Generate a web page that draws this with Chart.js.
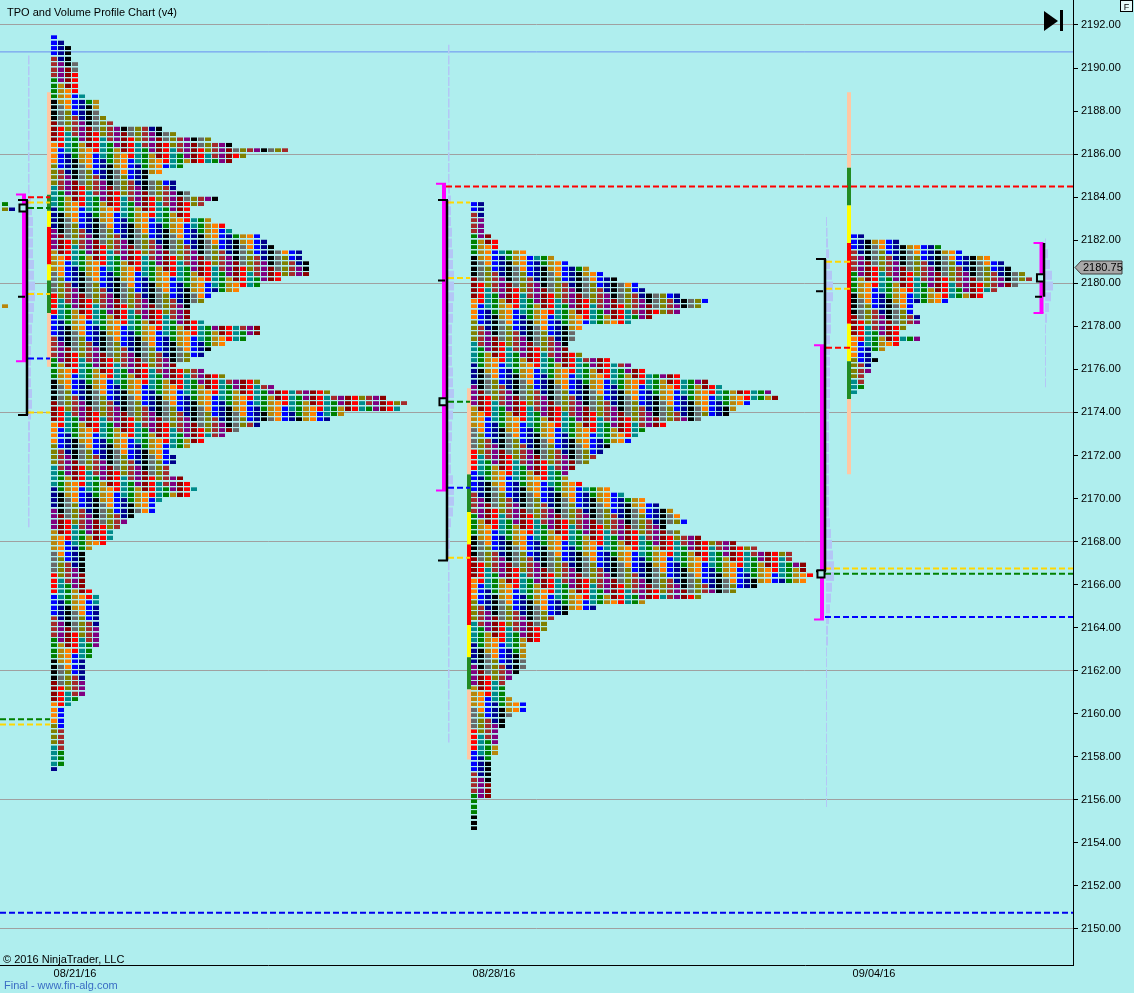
<!DOCTYPE html>
<html>
<head>
<meta charset="utf-8">
<title>TPO and Volume Profile Chart (v4)</title>
<script src="https://cdn.jsdelivr.net/npm/chart.js@4.4.1/dist/chart.umd.min.js"></script>
<style>
html,body{margin:0;padding:0;background:#afeeee;overflow:hidden;}
canvas{display:block;}
</style>
</head>
<body>
<canvas id="chart" width="1134" height="993"></canvas>
<script>
// ================= DATA =================
const TICK = 0.25;
const yTickValues = [2150,2152,2154,2156,2158,2160,2162,2164,2166,2168,2170,2172,2174,2176,2178,2180,2182,2184,2186,2188,2190,2192];
const gridLineValues = [2150,2156,2162,2168,2174,2180,2186,2192];
const dateLabels = ['08/21/16', '08/28/16', '09/04/16'];
const lastPrice = 2180.75;

// TPO profile row widths (number of TPO letters per 0.25 price row), listed from top price down
const p1Top = 2191.5;
const p1Widths = [1,2,3,3,3,4,4,4,4,4, 4,5,7,7,7,8,9,16,18,23, 26,34,28,26,19,16,14,18,18,20,
  24,22,20,20,23,25,26,30,31,32, 36,36,37,37,37,33,30,27,23,22, 20,20,20,22,30,30,28,25,23,22,
  20,18,22,25,30,32,40,48,51,50, 42,40,30,27,25,22,20,17,18,18, 17,17,19,20,21,20,16,15,15,12,
  11,10,9,9,8,6,5,5,5,5, 5,5,5,6,7,7, 7,7,7,7,7,7,7,7,6,6, 5,5,5,5,5,5,5,4,3,2,
  2,2,2,2,2,2,2,2,2,2, 1];

const p2Top = 2183.75;
const p2Widths = [2,2,2,2,2,2,3,4,4,8, 12,14,17,19,21,24,25,30,34,33, 30,26,23,16,15,15,14,14,16,20,
  23,25,30,34,36,43,44,40,38,37, 33,28,25,24,23,20,19,18,17,15, 14,14,16,20,22,25,27,29,30,31,
  28,30,33,38,41,46,46,48,48,49, 48,41,38,33,25,18,14,12,11,11, 10,10,
  8,8,8,8,8,7,6,5,5,5, 6,8,8,6,5,5,4,4,4,4, 4,3,3,3,3,3,3,3,3,1, 1,1,1,1,1];

const p3Top = 2182.25;
const p3Widths = [2,7,13,16,20,22,23,25,26,24, 21,19,14,9,9,10,10,8,7,10, 7,5,3,4,3,3,2,2,2,1];

// right edge of the previous (off-screen) session
const p0Prices = [2183.75, 2183.5, 2179.0];
const p0Widths = [1, 2, 1];

// volume profiles (bar length in px, one value per 0.5 point, from top price down)
const vol1Top = 2190.5;
const vol1 = [1.5,1.5,1.5,1.5,1.5,1.5,1.5,1.5,1.5,1.5,1.5,1.5,1.5, 3,4,5,5,5,5,6,6,7,7, 6,5,4,4,3,3,3,3,4,4,
  3,2,2,2,1.5,1.5,1.5,1.5,1.5,1.5,1.5];
const vol2Top = 2191.0;
const vol2 = [1.5,1.5,1.5,1.5,1.5,1.5,1.5,1.5,1.5,1.5,1.5,1.5,1.5,
  2,3,3,3,4,4,5,5,6,6, 6,5,5,4,4,4,4,5,5,6, 6,5,4,4,3,3,3,5,6,6, 5,3,2,2,
  1.5,1.5,1.5,1.5,1.5,1.5,1.5,1.5,1.5,1.5,1.5,1.5,1.5,1.5,1.5,1.5,1.5,1.5];
const vol3Top = 2183.0;
const vol3 = [1,1.5,2,3,4,6,7,7,5,5, 5,4,4,4,4,4,4,4,3,3, 3,3,3,3,3,3,3,3,4,5, 6,7,8,8,6,5,4,3,2,2,
  1,1,1,1,1,1,1,1,1,1,1,1,1,1,1];
const vol4Top = 2182.0;
const vol4 = [1,3,5,7,8,6,4,2,1,1,1,1,1,1];

// session range bar breakpoints (prices, top to bottom)
const p1RangeBreaks = [2188.875, 2184.125, 2183.375, 2182.625, 2180.875, 2180.125, 2178.625, 2176.125];
const p2RangeBreaks = [2175.125, 2171.125, 2169.375, 2167.875, 2164.125, 2162.625, 2161.125, 2157.875];
const p3RangeBreaks = [2188.875, 2185.375, 2183.625, 2181.875, 2178.125, 2176.375, 2174.625, 2171.125];

// value area / range lines (prices)
const p1VA = {magenta:[2184.125, 2176.375], black:[2183.875, 2173.875], tick:2179.375, marker:2183.5};
const p2VA = {magenta:[2184.625, 2170.375], black:[2183.875, 2167.125], tick:2180.125, marker:2174.5};
const p3VA = {magenta:[2177.125, 2164.375], black:[2181.125, 2166.625], tick:2179.625, marker:2166.5};
const p4VA = {magenta:[2181.875, 2178.625], black:[2181.875, 2179.375], tick:2179.375, marker:2180.25};

// short reference levels next to each profile
const p1Levels = {red:[2184.0], yellow:[2183.75, 2179.5, 2174.0], green:[2183.5], blue:[2176.5]};
const p2Levels = {red:[], yellow:[2183.75, 2180.25, 2167.25], green:[2174.5], blue:[2170.5]};
const p3Levels = {red:[2177.0], yellow:[2181.0, 2179.75], green:[], blue:[]};
const p0Levels = {green:[2159.75], yellow:[2159.5]};
const extendedFromP2 = {red:[2184.5]};
const extendedFromP3 = {yellow:[2166.75], green:[2166.5], blue:[2164.5]};
const fullWidthSolid = [2190.75];
const fullWidthDashed = [2150.75];

// ================= LAYOUT / STYLE =================
const FONT = '"Liberation Sans", Arial, Helvetica, sans-serif';
const PX = 7;                       // px per TPO column on the x scale
const X_MAX = 1073 / PX;
const Y_MIN = 2148.3274, Y_MAX = 2193.1615;
const BG = '#afeeee';
const palette = ['#0000ff','#a52a2a','#008000','#000000','#8b0000','#ff8000','#808000',
                 '#008b8b','#00008b','#800080','#b8860b','#696969','#ff0000'];
const rangeColors = ['#ffc8a4','#228b22','#ffff00','#ff0000','#ffff00','#228b22','#ffc8a4'];
const lay = {
  p0:{blocks:5},
  p1:{blocks:54, range:49, magenta:24, black:27, vol:28, gl:28, gr:50},
  p2:{blocks:474, range:469, magenta:444, black:447, vol:448, gl:448, gr:470},
  p3:{blocks:854, range:849, magenta:822, black:825, vol:826, gl:826, gr:850},
  p4:{magenta:1041.5, black:1044, vol:1045},
  right:1073
};
const datePx = [75, 494, 874];

const u = px => px / PX;
function hseg(x1, x2, p) { return [{x:u(x1), y:p}, {x:u(x2), y:p}, {x:u(x2), y:null}]; }
function vseg(x, p1, p2) { return [{x:u(x), y:p1}, {x:u(x), y:p2}, {x:u(x), y:null}]; }

// block images (6x4 coloured cell, placed so its top sits at the price level)
const blockImgs = palette.map(col => {
  const cv = document.createElement('canvas');
  cv.width = 6; cv.height = 7;
  const g = cv.getContext('2d');
  g.fillStyle = col; g.fillRect(0, 3, 6, 4);
  return cv;
});
function colorFor(r, c, seed) {
  return (c * 7 + Math.floor((r + c * 3 + seed) / 4)) % palette.length;
}
const buckets = palette.map(() => []);
function addProfile(topPrice, widths, startPx, seed) {
  widths.forEach((w, r) => {
    const price = topPrice - r * TICK;
    for (let c = 0; c < w; c++) {
      buckets[colorFor(r, c, seed)].push({x: u(startPx + c * PX), y: price});
    }
  });
}
addProfile(p1Top, p1Widths, lay.p1.blocks, 0);
addProfile(p2Top, p2Widths, lay.p2.blocks, 2);
addProfile(p3Top, p3Widths, lay.p3.blocks, 1);
p0Prices.forEach((p, i) => {
  for (let c = 0; c < p0Widths[i]; c++) buckets[(i * 4 + c * 2 + 2) % palette.length].push({x: u(lay.p0.blocks + c * PX), y: p});
});

function volSegs(top, arr, basePx) {
  let out = [];
  arr.forEach((w, i) => { out = out.concat(hseg(basePx, basePx + w, top - i * 0.5 - 0.125)); });
  return out;
}
const volData = [].concat(volSegs(vol1Top, vol1, lay.p1.vol), volSegs(vol2Top, vol2, lay.p2.vol),
                          volSegs(vol3Top, vol3, lay.p3.vol), volSegs(vol4Top, vol4, lay.p4.vol));

const rangeByColor = {};
function addRange(breaks, xPx) {
  for (let i = 0; i < breaks.length - 1; i++) {
    const col = rangeColors[i];
    (rangeByColor[col] = rangeByColor[col] || []).push(...vseg(xPx, breaks[i], breaks[i + 1]));
  }
}
addRange(p1RangeBreaks, lay.p1.range);
addRange(p2RangeBreaks, lay.p2.range);
addRange(p3RangeBreaks, lay.p3.range);

const dash = {red:[], yellow:[], green:[], blue:[]};
function addLevels(levels, x1, x2) {
  Object.keys(levels).forEach(k => levels[k].forEach(p => dash[k].push(...hseg(x1, x2, p))));
}
addLevels(p1Levels, lay.p1.gl, lay.p1.gr);
addLevels(p2Levels, lay.p2.gl, lay.p2.gr);
addLevels(p3Levels, lay.p3.gl, lay.p3.gr);
addLevels(p0Levels, 0, lay.p1.gr);
addLevels(extendedFromP2, lay.p2.black - 1, lay.right);
addLevels(extendedFromP3, lay.p3.black, lay.right);
const navyDash = [];
fullWidthDashed.forEach(p => navyDash.push(...hseg(0, lay.right, p)));
const solidBlue = [];
fullWidthSolid.forEach(p => solidBlue.push(...hseg(0, lay.right, p)));

const magV = [], magCaps = [], blkV = [], blkCaps = [], markers = [];
[[p1VA, lay.p1, true], [p2VA, lay.p2, true], [p3VA, lay.p3, true], [p4VA, lay.p4, false]].forEach(([va, L, blackCaps]) => {
  magV.push(...vseg(L.magenta, va.magenta[0], va.magenta[1]));
  magCaps.push(...hseg(L.magenta - 8, L.magenta + 2, va.magenta[0]));
  magCaps.push(...hseg(L.magenta - 8, L.magenta + 2, va.magenta[1]));
  blkV.push(...vseg(L.black, va.black[0], va.black[1]));
  if (blackCaps) {
    blkCaps.push(...hseg(L.black - 9, L.black + 1, va.black[0]));
    blkCaps.push(...hseg(L.black - 9, L.black + 1, va.black[1]));
  }
  blkCaps.push(...hseg(L.black - 9, L.black - 2, va.tick));
  markers.push({x: u(L.magenta - 1), y: va.marker});
});

function lineDS(data, color, width, dashArr) {
  return {data, showLine:true, borderColor:color, borderWidth:width, borderDash:dashArr || [],
          borderCapStyle:'butt', pointRadius:0, fill:false, spanGaps:false, tension:0};
}
const datasets = [];
datasets.push({data:markers, pointStyle:'rect', pointRadius:5, pointBorderWidth:2,
               pointBorderColor:'#000', pointBackgroundColor:BG, showLine:false});
datasets.push(lineDS(blkCaps, '#000', 2));
datasets.push(lineDS(blkV, '#000', 2.5));
datasets.push(lineDS(magCaps, '#ff00ff', 2));
datasets.push(lineDS(magV, '#ff00ff', 4));
datasets.push(lineDS(dash.red, '#ff0000', 2, [6,3]));
datasets.push(lineDS(dash.yellow, '#ffd700', 2, [6,3]));
datasets.push(lineDS(dash.green, '#008000', 2, [6,3]));
datasets.push(lineDS(dash.blue, '#0000ff', 2, [6,3]));
Object.keys(rangeByColor).forEach(col => datasets.push(lineDS(rangeByColor[col], col, 4)));
buckets.forEach((pts, i) => datasets.push({data:pts, pointStyle:blockImgs[i], pointRadius:3, showLine:false}));
datasets.push(lineDS(volData, '#b4c6f6', 9));
datasets.push(lineDS(solidBlue, '#6a8ff0', 1));
datasets.push(lineDS(navyDash, '#0000ee', 2, [6,3]));

const overlay = {
  id:'overlay',
  beforeDraw(chart) {
    const c = chart.ctx; c.save(); c.fillStyle = BG; c.fillRect(0, 0, chart.width, chart.height); c.restore();
  },
  afterDraw(chart) {
    const c = chart.ctx, ys = chart.scales.y;
    c.save();
    c.font = '11px ' + FONT; c.textAlign = 'left'; c.textBaseline = 'alphabetic'; c.fillStyle = '#000';
    c.fillText('TPO and Volume Profile Chart (v4)', 7, 16);
    c.fillText('\u00a9 2016 NinjaTrader, LLC', 3, 963);
    c.fillStyle = '#3a6dc4';
    c.fillText('Final - www.fin-alg.com', 4, 989);
    // go-to-end button
    c.fillStyle = '#000';
    c.beginPath(); c.moveTo(1044, 11); c.lineTo(1058, 21); c.lineTo(1044, 31); c.closePath(); c.fill();
    c.fillRect(1060, 10, 3, 21);
    // F box
    c.fillStyle = '#e6fafa'; c.fillRect(1120, 0, 13, 12);
    c.strokeStyle = '#000'; c.lineWidth = 1; c.strokeRect(1120.5, 0.5, 12, 11);
    c.fillStyle = '#000'; c.font = '9px ' + FONT; c.textAlign = 'center'; c.fillText('F', 1126.5, 9.5);
    // last price marker
    const py = Math.round(ys.getPixelForValue(lastPrice)) + 0.5;
    c.beginPath(); c.moveTo(1075, py); c.lineTo(1081, py - 6.5); c.lineTo(1122, py - 6.5);
    c.lineTo(1122, py + 6.5); c.lineTo(1081, py + 6.5); c.closePath();
    c.fillStyle = '#a8a8a8'; c.fill(); c.strokeStyle = '#404040'; c.stroke();
    c.fillStyle = '#000'; c.font = '11px ' + FONT; c.textAlign = 'left'; c.textBaseline = 'middle';
    c.fillText(lastPrice.toFixed(2), 1083, py + 0.5);
    c.restore();
  }
};

new Chart(document.getElementById('chart'), {
  type:'scatter',
  data:{datasets},
  plugins:[overlay],
  options:{
    responsive:false, animation:false, events:[],
    layout:{padding:0, autoPadding:false},
    plugins:{legend:{display:false}, tooltip:{enabled:false}},
    scales:{
      x:{type:'linear', position:'bottom', min:0, max:X_MAX,
         grid:{display:false, drawTicks:false, tickLength:0}, border:{display:true, color:'#000', width:1},
         ticks:{color:'#000', font:{family:FONT, size:11}, padding:2, maxRotation:0, minRotation:0, autoSkip:false,
                callback:(v, i) => dateLabels[i]},
         afterBuildTicks:s => { s.ticks = datePx.map(p => ({value:u(p)})); },
         afterFit:s => { s.height = 28; s.paddingLeft = 0; s.paddingRight = 0; }},
      y:{type:'linear', position:'right', min:Y_MIN, max:Y_MAX,
         grid:{color:ctx => (ctx.tick && gridLineValues.includes(ctx.tick.value)) ? '#a0a0a0' : 'rgba(0,0,0,0)',
               tickColor:'#000', tickLength:5, drawTicks:true, lineWidth:1},
         border:{display:true, color:'#000', width:1},
         ticks:{color:'#000', font:{family:FONT, size:11}, padding:3, includeBounds:false,
                callback:v => Number(v).toFixed(2)},
         afterBuildTicks:s => { s.ticks = yTickValues.map(v => ({value:v})); },
         afterFit:s => { s.width = 61; s.paddingTop = 0; s.paddingBottom = 0; }}
    }
  }
});
</script>
</body>
</html>
